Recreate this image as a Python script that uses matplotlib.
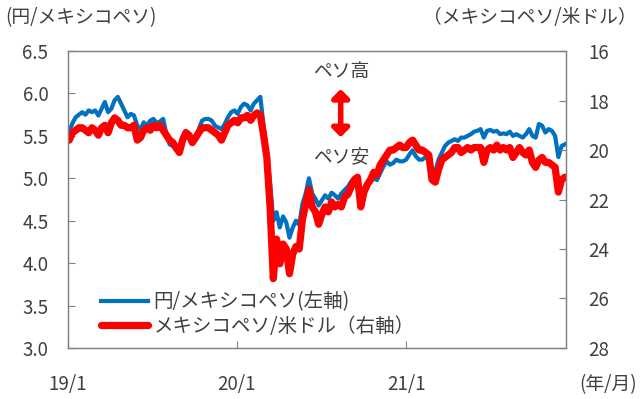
#! /usr/bin/env python3
# JPY/MXN and MXN/USD weekly rates, 2019/1 - 2021/12

import matplotlib

matplotlib.use("Agg")
import matplotlib.pyplot as plt
import pandas as pd

plt.rcParams["font.family"] = ["Noto Sans CJK JP", "DejaVu Sans"]

# weekly (Friday) observations from 2019-01-04
jpy_mxn = [
    # 2019
    5.55, 5.65, 5.72, 5.75,
    5.78, 5.75, 5.80, 5.78,
    5.80, 5.74, 5.82, 5.90, 5.78,
    5.82, 5.92, 5.96, 5.88,
    5.80, 5.72, 5.76, 5.74, 5.62,
    5.58, 5.66, 5.62, 5.68,
    5.70, 5.65, 5.67, 5.70,
    5.52, 5.40, 5.38, 5.33, 5.32,
    5.48, 5.56, 5.52, 5.47,
    5.45, 5.58, 5.68, 5.70,
    5.70, 5.68, 5.62, 5.60, 5.58,
    5.64, 5.72, 5.78, 5.80,
    # 2020
    5.76, 5.84, 5.88, 5.86, 5.80,
    5.88, 5.92, 5.96, 5.62,
    5.30, 4.95, 4.50, 4.60,
    4.42, 4.55, 4.48, 4.30,
    4.42, 4.50, 4.45, 4.70, 4.82,
    5.00, 4.82, 4.76, 4.68,
    4.74, 4.80, 4.76, 4.83, 4.80,
    4.76, 4.82, 4.86, 4.90,
    4.96, 5.00, 5.02, 4.75,
    4.85, 4.93, 4.96, 5.00, 4.98,
    5.06, 5.14, 5.20, 5.16,
    5.18, 5.22, 5.20, 5.20,
    # 2021
    5.22, 5.28, 5.33, 5.26, 5.22,
    5.22, 5.25, 5.22, 5.06,
    5.08, 5.22, 5.30, 5.38,
    5.42, 5.44, 5.46, 5.44, 5.48,
    5.48, 5.50, 5.52, 5.55,
    5.56, 5.58, 5.48, 5.56,
    5.57, 5.55, 5.56, 5.52, 5.53,
    5.52, 5.55, 5.50, 5.52,
    5.50, 5.48, 5.52, 5.58,
    5.50, 5.48, 5.64, 5.62, 5.54,
    5.58, 5.56, 5.50, 5.25,
    5.38, 5.40,
]

mxn_usd = [
    # 2019
    19.6, 19.3, 19.2, 19.1,
    19.1, 19.2, 19.3, 19.1,
    19.2, 19.4, 19.1, 19.0, 19.3,
    18.9, 18.7, 18.8, 19.0,
    19.0, 19.1, 19.1, 19.0, 19.6,
    19.5, 19.2, 19.1, 19.2,
    19.0, 19.1, 19.0, 19.2,
    19.4, 19.6, 19.7, 19.9, 20.1,
    19.6, 19.3, 19.4, 19.7,
    19.5, 19.3, 19.1, 19.1,
    19.1, 19.2, 19.3, 19.4, 19.6,
    19.3, 19.0, 18.9, 18.8,
    # 2020
    18.9, 18.7, 18.7, 18.6, 18.8,
    18.6, 18.5, 18.6, 19.4,
    20.3, 22.3, 25.2, 23.6,
    24.6, 23.8, 24.0, 25.0,
    24.2, 23.9, 24.0, 22.8, 22.2,
    21.6, 22.3, 22.5, 23.0,
    22.6, 22.3, 22.5, 22.1, 22.3,
    22.2, 22.3, 21.9, 21.8,
    21.5, 21.2, 21.1, 22.3,
    21.7, 21.4, 21.2, 20.9, 21.0,
    20.6, 20.4, 20.2, 20.0,
    20.0, 19.9, 19.8, 19.9,
    # 2021
    19.9, 19.7, 19.6, 19.8, 20.0,
    20.0, 20.1, 20.2, 21.2,
    21.3, 20.8, 20.4, 20.3,
    20.2, 20.1, 19.9, 19.9, 20.1,
    20.0, 19.9, 20.0, 19.9,
    19.9, 19.9, 20.5, 20.0,
    19.9, 20.0, 19.8, 20.0, 19.9,
    20.0, 19.9, 20.3, 20.1,
    19.9, 20.1, 20.2, 20.0,
    20.5, 20.7, 20.4, 20.3, 20.5,
    20.5, 20.6, 20.7, 21.7,
    21.2, 21.1,
]

dates = pd.date_range("2019-01-04", periods=len(jpy_mxn), freq="W-FRI")

left_ticks = [3.0, 3.5, 4.0, 4.5, 5.0, 5.5, 6.0, 6.5]
right_ticks = [16, 18, 20, 22, 24, 26, 28]
x_ticks = ["2019-01-01", "2020-01-01", "2021-01-01"]
x_labels = ["19/1", "20/1", "21/1"]

BLUE = "#0070C0"
RED = "#FF0000"
GRAY = "#808080"
TEXT = "#404040"
FS = 13.5

fig = plt.figure(figsize=(6.4, 3.99), dpi=100)
ax = fig.add_axes([0.106, 0.128, 0.778, 0.744])
ax2 = ax.twinx()

(l1,) = ax.plot(dates, jpy_mxn, color=BLUE, lw=3.0, label="円/メキシコペソ(左軸)")
(l2,) = ax2.plot(dates, mxn_usd, color=RED, lw=5.2, label="メキシコペソ/米ドル（右軸）",
                 solid_capstyle="round", solid_joinstyle="round")

ax.set_ylim(3.0, 6.5)
ax.set_yticks(left_ticks)
ax.set_yticklabels([f"{v:.1f}" for v in left_ticks])
ax2.set_ylim(28, 16)
ax2.set_yticks(right_ticks)

ax.set_xlim(pd.Timestamp("2019-01-01"), pd.Timestamp("2021-12-12"))
ax.set_xticks(pd.to_datetime(x_ticks))
ax.set_xticklabels(x_labels)

for a in (ax, ax2):
    for s in a.spines.values():
        s.set_color(GRAY)
        s.set_linewidth(0.9)
ax.tick_params(axis="y", direction="in", length=5, color=GRAY, labelsize=FS,
               labelcolor=TEXT, pad=14)
ax.tick_params(axis="x", direction="in", length=5, color=GRAY, labelsize=FS,
               labelcolor=TEXT, pad=19)
ax2.tick_params(axis="y", direction="in", length=5, color=GRAY, labelsize=FS,
                labelcolor=TEXT, pad=16)

fig.text(0.008, 0.955, "(円/メキシコペソ)", fontsize=FS, color=TEXT, va="center")
fig.text(0.995, 0.955, "（メキシコペソ/米ドル）", fontsize=FS, color=TEXT,
         va="center", ha="right")
fig.text(0.995, 0.035, "(年/月)", fontsize=FS, color=TEXT, va="center", ha="right")

ax.text(0.548, 0.93, "ペソ高", transform=ax.transAxes, fontsize=FS, color=TEXT,
        ha="center", va="center")
ax.text(0.548, 0.645, "ペソ安", transform=ax.transAxes, fontsize=FS, color=TEXT,
        ha="center", va="center")
ax.annotate("", xy=(0.548, 0.872), xytext=(0.548, 0.71), xycoords="axes fraction",
            arrowprops=dict(arrowstyle="<|-|>,head_width=0.5,head_length=0.5",
                            color=RED, lw=4, shrinkA=0, shrinkB=0))

leg = ax2.legend(handles=[l1, l2], loc="lower left", bbox_to_anchor=(0.045, 0.0),
                 frameon=False, fontsize=14, handlelength=2.4, handletextpad=0.3,
                 labelspacing=0.2, borderaxespad=0.15)
for t in leg.get_texts():
    t.set_color(TEXT)

fig.savefig("out.png", dpi=100)
